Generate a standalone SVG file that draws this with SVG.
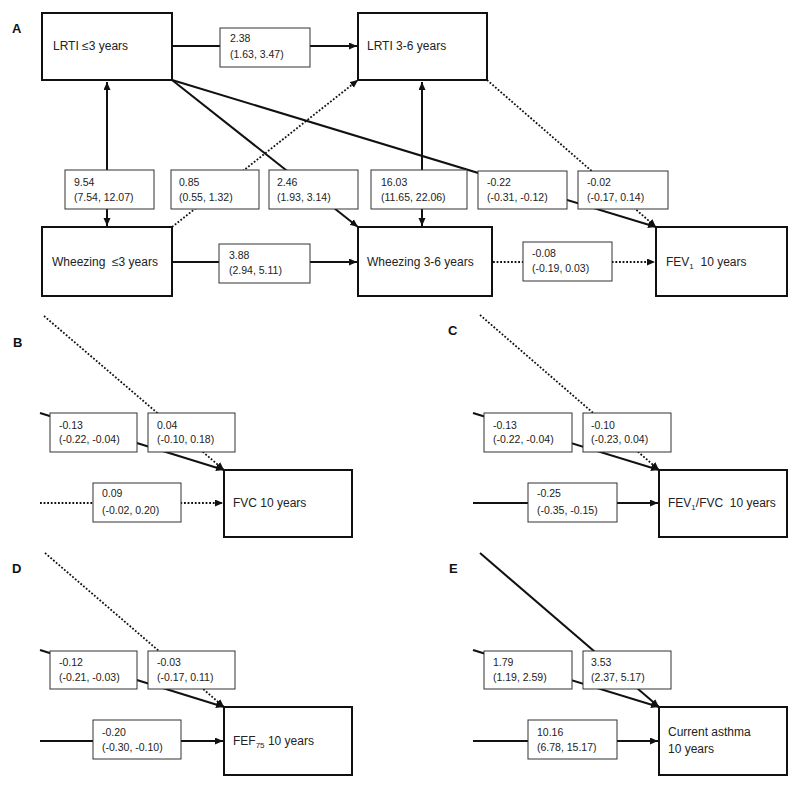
<svg xmlns="http://www.w3.org/2000/svg" width="800" height="788" viewBox="0 0 800 788">
<style>
text{font-family:"Liberation Sans",Arial,sans-serif;fill:#222;white-space:pre}
.nt{font-size:12px}
.lt{font-size:10.5px}
.pl{font-size:13px;font-weight:bold;fill:#111}
.node{fill:#fff;stroke:#111;stroke-width:2}
.lab{fill:#fff;stroke:#333;stroke-width:1}
.s{stroke:#111;stroke-width:2;fill:none}
.d{stroke:#111;stroke-width:1.8;fill:none;stroke-dasharray:1.8 1.8}
</style>
<defs>
<marker id="ah" markerUnits="userSpaceOnUse" markerWidth="9" markerHeight="8" refX="8" refY="3.5" orient="auto-start-reverse">
<path d="M0,0 L8,3.5 L0,7 z" fill="#111"/>
</marker>
</defs>
<rect width="800" height="788" fill="#fff"/>
<g id="connectors">
<!-- Panel A -->
<line class="s" x1="173" y1="46" x2="357" y2="46" marker-end="url(#ah)"/>
<line class="s" x1="107" y1="82" x2="107" y2="226" marker-start="url(#ah)" marker-end="url(#ah)"/>
<line class="s" x1="422" y1="82" x2="422" y2="226" marker-start="url(#ah)" marker-end="url(#ah)"/>
<line class="s" x1="173" y1="262" x2="357" y2="262" marker-end="url(#ah)"/>
<line class="d" x1="493" y1="262" x2="655" y2="262" marker-end="url(#ah)"/>
<line class="s" x1="172" y1="80" x2="656" y2="227" marker-end="url(#ah)"/>
<line class="s" x1="172" y1="80" x2="358" y2="227" marker-end="url(#ah)"/>
<line class="d" x1="172" y1="227" x2="358" y2="80" marker-end="url(#ah)"/>
<line class="d" x1="487" y1="80" x2="656" y2="227" marker-end="url(#ah)"/>
<!-- Panel B -->
<line class="d" x1="44" y1="316" x2="224" y2="470" marker-end="url(#ah)"/>
<line class="s" x1="40" y1="413" x2="224" y2="470" marker-end="url(#ah)"/>
<line class="d" x1="40" y1="503" x2="223" y2="503" marker-end="url(#ah)"/>
<!-- Panel C -->
<line class="d" x1="480" y1="315" x2="659" y2="470" marker-end="url(#ah)"/>
<line class="s" x1="473" y1="413" x2="659" y2="470" marker-end="url(#ah)"/>
<line class="s" x1="473" y1="503" x2="658" y2="503" marker-end="url(#ah)"/>
<!-- Panel D -->
<line class="d" x1="45" y1="553" x2="224" y2="707" marker-end="url(#ah)"/>
<line class="s" x1="40" y1="650" x2="224" y2="707" marker-end="url(#ah)"/>
<line class="s" x1="40" y1="741" x2="223" y2="741" marker-end="url(#ah)"/>
<!-- Panel E -->
<line class="s" x1="480" y1="553" x2="659" y2="707" marker-end="url(#ah)"/>
<line class="s" x1="473" y1="650" x2="659" y2="707" marker-end="url(#ah)"/>
<line class="s" x1="473" y1="741" x2="658" y2="741" marker-end="url(#ah)"/>
</g>
<g id="panel-labels">
<text class="pl" x="12" y="33">A</text>
<text class="pl" x="13" y="347">B</text>
<text class="pl" x="448" y="335">C</text>
<text class="pl" x="12" y="573">D</text>
<text class="pl" x="449" y="573">E</text>
</g>
<g id="edge-labels">
<g id="l-238"><rect class="lab" x="220" y="28" width="90" height="39"/><text class="lt" x="230" y="42">2.38</text><text class="lt" x="230" y="58">(1.63, 3.47)</text></g>
<g id="l-954"><rect class="lab" x="65" y="170" width="89" height="39"/><text class="lt" x="74" y="186">9.54</text><text class="lt" x="74" y="201">(7.54, 12.07)</text></g>
<g id="l-085"><rect class="lab" x="171" y="170" width="88" height="39"/><text class="lt" x="179" y="186">0.85</text><text class="lt" x="179" y="201">(0.55, 1.32)</text></g>
<g id="l-246"><rect class="lab" x="269" y="170" width="89" height="39"/><text class="lt" x="277" y="186">2.46</text><text class="lt" x="277" y="201">(1.93, 3.14)</text></g>
<g id="l-1603"><rect class="lab" x="371" y="170" width="96" height="39"/><text class="lt" x="381" y="186">16.03</text><text class="lt" x="381" y="201">(11.65, 22.06)</text></g>
<g id="l-022"><rect class="lab" x="478" y="171" width="89" height="38"/><text class="lt" x="487" y="186">-0.22</text><text class="lt" x="487" y="201">(-0.31, -0.12)</text></g>
<g id="l-002"><rect class="lab" x="578" y="171" width="90" height="38"/><text class="lt" x="587" y="186">-0.02</text><text class="lt" x="587" y="201">(-0.17, 0.14)</text></g>
<g id="l-388"><rect class="lab" x="219" y="244" width="91" height="39"/><text class="lt" x="229" y="259">3.88</text><text class="lt" x="229" y="274">(2.94, 5.11)</text></g>
<g id="l-008"><rect class="lab" x="523" y="242" width="89" height="39"/><text class="lt" x="532" y="257">-0.08</text><text class="lt" x="532" y="272">(-0.19, 0.03)</text></g>
<g id="l-b013"><rect class="lab" x="50" y="413" width="87" height="39"/><text class="lt" x="59" y="429">-0.13</text><text class="lt" x="59" y="443">(-0.22, -0.04)</text></g>
<g id="l-b004"><rect class="lab" x="148" y="413" width="87" height="39"/><text class="lt" x="157" y="429">0.04</text><text class="lt" x="157" y="443">(-0.10, 0.18)</text></g>
<g id="l-b009"><rect class="lab" x="93" y="483" width="88" height="39"/><text class="lt" x="102" y="497">0.09</text><text class="lt" x="102" y="514">(-0.02, 0.20)</text></g>
<g id="l-c013"><rect class="lab" x="484" y="413" width="88" height="39"/><text class="lt" x="493" y="429">-0.13</text><text class="lt" x="493" y="443">(-0.22, -0.04)</text></g>
<g id="l-c010"><rect class="lab" x="583" y="413" width="88" height="39"/><text class="lt" x="591" y="429">-0.10</text><text class="lt" x="591" y="443">(-0.23, 0.04)</text></g>
<g id="l-c025"><rect class="lab" x="528" y="483" width="89" height="39"/><text class="lt" x="537" y="497">-0.25</text><text class="lt" x="537" y="514">(-0.35, -0.15)</text></g>
<g id="l-d012"><rect class="lab" x="50" y="651" width="87" height="38"/><text class="lt" x="59" y="666">-0.12</text><text class="lt" x="59" y="681">(-0.21, -0.03)</text></g>
<g id="l-d003"><rect class="lab" x="148" y="651" width="87" height="38"/><text class="lt" x="157" y="666">-0.03</text><text class="lt" x="157" y="681">(-0.17, 0.11)</text></g>
<g id="l-d020"><rect class="lab" x="93" y="720" width="88" height="39"/><text class="lt" x="102" y="736">-0.20</text><text class="lt" x="102" y="751">(-0.30, -0.10)</text></g>
<g id="l-e179"><rect class="lab" x="484" y="651" width="88" height="38"/><text class="lt" x="493" y="666">1.79</text><text class="lt" x="493" y="681">(1.19, 2.59)</text></g>
<g id="l-e353"><rect class="lab" x="583" y="651" width="88" height="38"/><text class="lt" x="591" y="666">3.53</text><text class="lt" x="591" y="681">(2.37, 5.17)</text></g>
<g id="l-e1016"><rect class="lab" x="528" y="720" width="89" height="39"/><text class="lt" x="537" y="736">10.16</text><text class="lt" x="537" y="751">(6.78, 15.17)</text></g>
</g>
<g id="n-lrti3"><rect class="node" x="42" y="13" width="130" height="67"/><text class="nt" x="53" y="50">LRTI ≤3 years</text></g>
<g id="n-lrti36"><rect class="node" x="358" y="13" width="129" height="67"/><text class="nt" x="367" y="50">LRTI 3-6 years</text></g>
<g id="n-wh3"><rect class="node" x="42" y="227" width="130" height="69"/><text class="nt" x="52" y="266">Wheezing  ≤3 years</text></g>
<g id="n-wh36"><rect class="node" x="358" y="227" width="134" height="69"/><text class="nt" x="367" y="266">Wheezing 3-6 years</text></g>
<g id="n-fev1"><rect class="node" x="656" y="227" width="131" height="69"/><text class="nt" x="666" y="266">FEV<tspan font-size="8" dy="3">1</tspan><tspan dy="-3">  10 years</tspan></text></g>
<g id="n-fvc"><rect class="node" x="224" y="470" width="128" height="67"/><text class="nt" x="233" y="507">FVC 10 years</text></g>
<g id="n-fev1fvc"><rect class="node" x="659" y="470" width="128" height="67"/><text class="nt" x="668" y="507">FEV<tspan font-size="8" dy="3">1</tspan><tspan dy="-3">/FVC  10 years</tspan></text></g>
<g id="n-fef75"><rect class="node" x="224" y="707" width="128" height="68"/><text class="nt" x="233" y="745">FEF<tspan font-size="8" dy="3">75</tspan><tspan dy="-3"> 10 years</tspan></text></g>
<g id="n-asthma"><rect class="node" x="659" y="707" width="128" height="68"/><text class="nt" x="668" y="736">Current asthma</text><text class="nt" x="668" y="753">10 years</text></g>
</svg>
